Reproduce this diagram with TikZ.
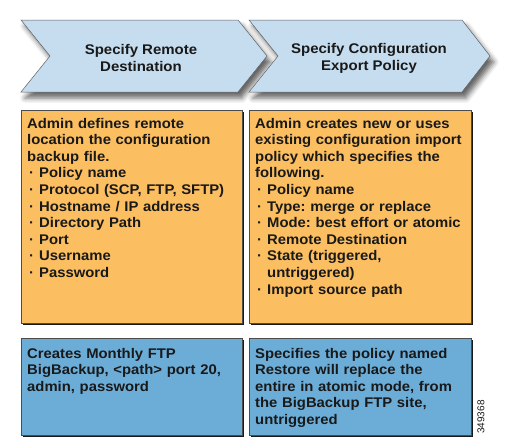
\documentclass[tikz,border=0pt]{standalone}
\usepackage{fontspec}
\setmainfont{Liberation Sans}
\newfontfamily\boxfont{Liberation Sans}[FakeStretch=1.06]
\newfontfamily\stepfont{Liberation Sans}[FakeStretch=1.07]
\usepackage{xcolor}
\usetikzlibrary{positioning,shadows,shadows.blur}
\definecolor{chevblue}  {RGB}{198,221,240}
\definecolor{boxorange} {RGB}{251,190,96}
\definecolor{boxblue}   {RGB}{108,173,216}
\definecolor{inktext}   {RGB}{25,25,25}
\newcommand\bul{\makebox[12pt][l]{\hspace{2pt}·}}
\frenchspacing

\begin{document}
\begin{tikzpicture}[
  x=1pt, y=-1pt,
  chev/.style={fill=chevblue, draw=gray!75!black, line width=0.5pt,
    blur shadow={shadow xshift=4pt, shadow yshift=-6pt,
      shadow blur radius=5pt, shadow opacity=60}},
  steptext/.style={font=\stepfont\bfseries\fontsize{14}{17}\selectfont,
    align=center, text=inktext, inner sep=0pt},
  obox/.style={fill=boxorange, draw=gray!60!black, line width=0.4pt,
    anchor=north west, inner sep=0pt,
    drop shadow={shadow xshift=1.4pt, shadow yshift=-1.4pt,
      fill=black, opacity=0.9}},
  bbox/.style={obox, fill=boxblue},
  boxtext/.style={font=\boxfont\bfseries\fontsize{14}{16.6}\selectfont,
    anchor=base west, align=left, text width=230pt, inner sep=0pt,
    text=inktext},
]
\useasboundingbox (0,0) rectangle (523,437);

% Step chevrons
\path[chev] (21,20) -- (238,20) -- (267,56) -- (238,92)
  -- (21,92) -- (50,56) -- cycle;
\path[chev] (249,20) -- (462,20) -- (490,56) -- (462,92)
  -- (249,92) -- (278,56) -- cycle;
\node[steptext] (remote) at (141,58) {Specify Remote\\Destination};
\node[steptext] (export) at (369,58) {Specify Configuration\\Export Policy};

% Orange description boxes
\node[obox, minimum width=221pt, minimum height=213pt] (remotebox) at (21,110) {};
\node[obox, minimum width=222pt, minimum height=213pt] (exportbox) at (249,110) {};

\node[boxtext] (remotetext) at (27,128) {Admin defines remote\\
location the configuration\\
backup file.\\
\bul Policy name\\
\bul Protocol (SCP, FTP, SFTP)\\
\bul Hostname / IP address\\
\bul Directory Path\\
\bul Port\\
\bul Username\\
\bul Password};

\node[boxtext] (exporttext) at (255,128) {Admin creates new or uses\\
existing configuration import\\
policy which specifies the\\
following.\\
\bul Policy name\\
\bul Type: merge or replace\\
\bul Mode: best effort or atomic\\
\bul Remote Destination\\
\bul State (triggered,\\
\hspace*{12pt}untriggered)\\
\bul Import source path};

% Blue example boxes
\node[bbox, minimum width=221pt, minimum height=97pt] (remoteex) at (21,338) {};
\node[bbox, minimum width=222pt, minimum height=97pt] (exportex) at (249,338) {};

\node[boxtext] (remoteextext) at (27,358) {Creates Monthly FTP\\
BigBackup, <path> port 20,\\
admin, password};

\node[boxtext] (exportextext) at (255,358) {Specifies the policy named\\
Restore will replace the\\
entire in atomic mode, from\\
the BigBackup FTP site,\\
untriggered};

% Figure number
\node[rotate=90, font=\fontsize{10}{12}\selectfont, text=inktext,
  inner sep=0pt] (fignum) at (481,417) {349368};

\end{tikzpicture}
\end{document}
